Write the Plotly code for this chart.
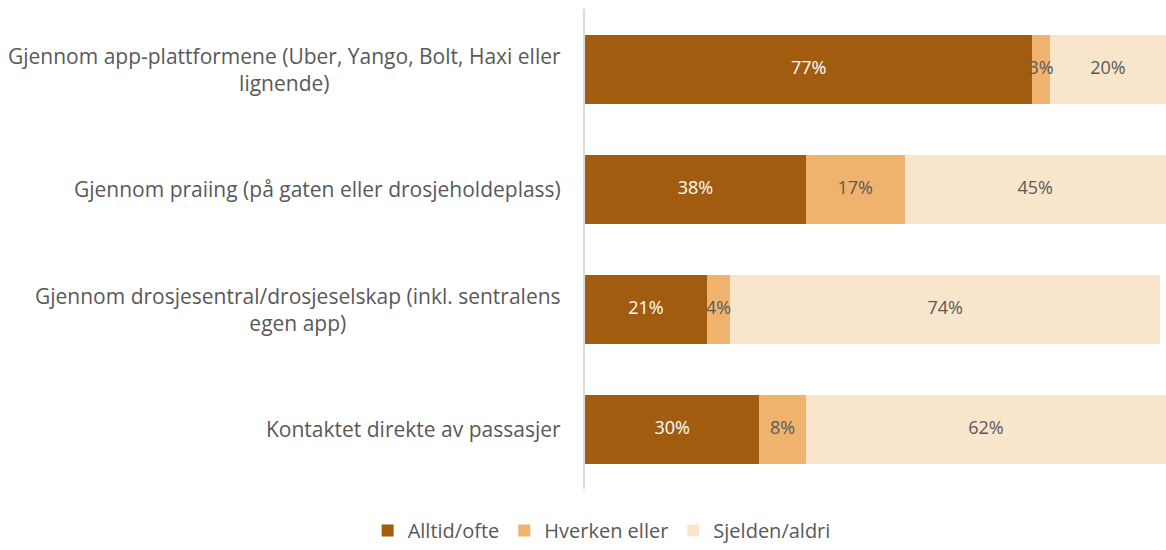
import plotly.graph_objects as go

categories = [
    "Gjennom app-plattformene (Uber, Yango, Bolt, Haxi eller<br>lignende)",
    "Gjennom praiing (på gaten eller drosjeholdeplass)",
    "Gjennom drosjesentral/drosjeselskap (inkl. sentralens<br>egen app)",
    "Kontaktet direkte av passasjer",
]
series_names = ["Alltid/ofte", "Hverken eller", "Sjelden/aldri"]
alltid_ofte = [77, 38, 21, 30]
hverken_eller = [3, 17, 4, 8]
sjelden_aldri = [20, 45, 74, 62]

colors = ["#A15C0F", "#F0B36E", "#F9E5CC"]
text_colors = ["#FFFFFF", "#595959", "#595959"]
FONT = "Open Sans"

series = [alltid_ofte, hverken_eller, sjelden_aldri]

fig = go.Figure()
for name, vals, col in zip(series_names, series, colors):
    fig.add_trace(go.Bar(
        y=categories, x=vals, name=name, orientation="h",
        marker=dict(color=col, line=dict(width=0)),
        hoverinfo="skip",
    ))

# value labels drawn last so narrow segments' labels sit above neighbouring bars
base = [0] * len(categories)
for vals, tcol in zip(series, text_colors):
    mids = [b + v / 2 for b, v in zip(base, vals)]
    fig.add_trace(go.Scatter(
        x=mids, y=categories, mode="text",
        text=[f"{v}%" for v in vals], textposition="middle center",
        textfont=dict(family=FONT, size=18, color=tcol),
        showlegend=False, hoverinfo="skip", cliponaxis=False,
    ))
    base = [b + v for b, v in zip(base, vals)]

# category labels, centred per line and right-aligned to the axis
for cat in categories:
    fig.add_annotation(
        x=0, xref="paper", y=cat, yref="y", xanchor="right", xshift=-22,
        text=cat, showarrow=False, align="center",
        font=dict(family=FONT, size=21, color="#595959"),
    )

fig.update_layout(
    width=1166, height=550,
    margin=dict(l=585, r=0, t=9, b=61),
    barmode="stack", bargap=0.425,
    plot_bgcolor="white", paper_bgcolor="white",
    font=dict(family=FONT, color="#595959"),
    xaxis=dict(range=[0, 100], showticklabels=False, showgrid=False, zeroline=False,
               fixedrange=True),
    yaxis=dict(autorange="reversed", showticklabels=False, showgrid=False, zeroline=False,
               showline=True, linecolor="#D9D9D9", linewidth=1.5, ticks=""),
    legend=dict(orientation="h", xref="container", x=0.516, xanchor="center",
                yref="container", y=-0.008, yanchor="bottom",
                font=dict(family=FONT, size=20, color="#595959"),
                itemwidth=30, traceorder="normal"),
    showlegend=True,
)

fig.write_html("out.html")
